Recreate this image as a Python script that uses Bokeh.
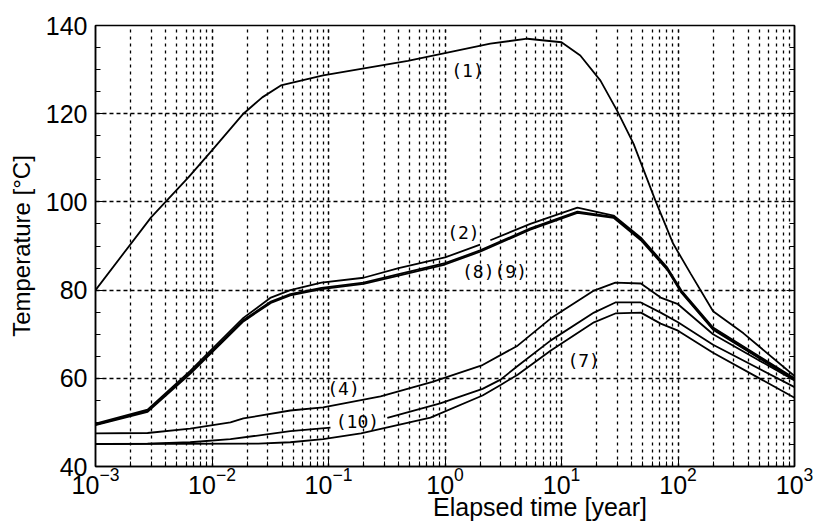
import math
from bokeh.plotting import figure
from bokeh.layouts import column
from bokeh.models import LinearAxis, LogTicker, SingleIntervalTicker, Range1d, Div
from bokeh.core.properties import value
from bokeh.embed import file_html
from bokeh.resources import INLINE

NaN = float("nan")

# Elapsed time [year] and temperature [°C] for each case
t1 = [0.001, 0.003, 0.0063, 0.01, 0.0186, 0.027, 0.039, 0.09, 0.48, 2.45, 5.1, 10, 14.5, 21.6, 30, 41.5, 64, 91, 128, 200, 365, 1000]
T1 = [80.0, 96.5, 105.6, 111.7, 120.0, 123.7, 126.4, 128.7, 132.0, 135.9, 137.0, 136.2, 133.2, 127.5, 120.7, 113.2, 100.3, 90.5, 83.8, 75.2, 70.2, 60.5]

t2 = [0.001, 0.0028, 0.0065, 0.0186, 0.032, 0.047, 0.087, 0.2, 0.4, 1.0, 2.0, 2.2, 2.45, 5.4, 13.7, 28, 48, 81, 107, 200, 1000]
T2 = [49.7, 52.9, 61.7, 73.7, 78.3, 80.0, 81.7, 82.8, 85.0, 87.4, 90.3, NaN, 91.3, 95.0, 98.7, 96.9, 91.9, 85.1, 79.9, 71.5, 60.0]

t8 = [0.001, 0.0028, 0.0065, 0.0186, 0.032, 0.047, 0.087, 0.2, 0.4, 1.0, 2.0, 5.4, 13.7, 28, 48, 81, 107, 200, 1000]
T8 = [49.5, 52.6, 61.3, 73.2, 77.4, 79.1, 80.5, 81.7, 83.6, 86.1, 89.0, 94.0, 97.8, 96.6, 91.6, 84.8, 79.6, 71.2, 59.8]
T9 = [49.4, 52.4, 61.0, 72.9, 77.1, 78.8, 80.2, 81.4, 83.3, 85.8, 88.7, 93.7, 97.5, 96.4, 91.3, 84.6, 79.4, 71.0, 59.6]

t4 = [0.001, 0.0028, 0.0065, 0.0144, 0.0186, 0.047, 0.09, 0.28, 0.78, 2.1, 4.2, 8.1, 19, 29, 48, 71, 100, 200, 1000]
T4 = [47.5, 47.6, 48.6, 50.0, 50.9, 52.7, 53.4, 55.9, 59.2, 63.0, 67.4, 73.6, 79.9, 81.7, 81.5, 78.3, 76.8, 70.0, 59.5]

t10 = [0.001, 0.0028, 0.0065, 0.0144, 0.047, 0.104, 0.18, 0.32, 0.91, 2.1, 3.0, 4.2, 8.1, 19, 29, 48, 71, 100, 200, 1000]
T10 = [45.1, 45.2, 45.5, 46.2, 48.0, 48.8, NaN, 51.0, 54.3, 57.6, 59.7, 62.8, 68.6, 74.9, 77.2, 77.2, 74.9, 72.7, 67.6, 58.0]

t7 = [0.001, 0.025, 0.047, 0.09, 0.19, 0.75, 2.1, 3.0, 4.2, 8.1, 19, 29, 48, 71, 100, 200, 1000]
T7 = [45.1, 45.2, 45.5, 46.2, 47.5, 51.1, 56.1, 58.5, 60.8, 66.3, 72.7, 74.7, 74.9, 72.4, 70.8, 65.8, 55.6]

series = [(t1, T1), (t2, T2), (t8, T8), (t8, T9), (t4, T4), (t10, T10), (t7, T7)]

# Curve tags and where they sit
tags = ["(1)", "(2)", "(8)(9)", "(4)", "(10)", "(7)"]
tag_x = [1.56, 1.44, 2.66, 0.1345, 0.177, 15.5]
tag_y = [129.8, 93.0, 84.2, 57.6, 50.1, 64.0]

y_ticks_step = 20

FONT = "Liberation Sans"

p = figure(width=813, height=503, x_axis_type="log",
           x_range=Range1d(1e-3, 1e3), y_range=Range1d(40, 140),
           output_backend="svg", toolbar_location=None,
           min_border_left=95, min_border_right=19, min_border_top=25, min_border_bottom=37)
p.outline_line_color = "black"
p.outline_line_width = 1.5

# grids: dotted on every log sub-decade and on each major temperature
p.xaxis.ticker = LogTicker(num_minor_ticks=10)
p.yaxis.ticker = SingleIntervalTicker(interval=y_ticks_step, num_minor_ticks=4)
p.xgrid.grid_line_color = "black"
p.xgrid.grid_line_dash = "3 4"
p.xgrid.grid_line_width = 1.3
p.xgrid.minor_grid_line_color = "black"
p.xgrid.minor_grid_line_dash = "3 4"
p.xgrid.minor_grid_line_width = 1.3
p.ygrid.grid_line_color = "black"
p.ygrid.grid_line_dash = "4 3"
p.ygrid.grid_line_width = 1.3

for ax in (p.xaxis[0], p.yaxis[0]):
    ax.major_tick_in = 8
    ax.major_tick_out = 0
    ax.minor_tick_in = 5
    ax.minor_tick_out = 0
    ax.axis_line_width = 1.5
    ax.major_label_text_font = FONT
    ax.major_label_text_font_size = "25px"
    ax.major_label_text_color = "black"
    ax.axis_label_text_font = FONT
    ax.axis_label_text_font_size = "24px"
    ax.axis_label_text_font_style = "normal"
    ax.axis_label_text_color = "black"

p.yaxis.axis_label = "Temperature [°C]"
p.yaxis.axis_label_standoff = 8
p.yaxis.major_label_standoff = 8
p.xaxis.major_label_standoff = 0

right = LinearAxis(ticker=SingleIntervalTicker(interval=y_ticks_step, num_minor_ticks=4),
                   major_label_text_font_size="1px", major_label_text_color=None,
                   major_tick_in=8, major_tick_out=0,
                   minor_tick_in=5, minor_tick_out=0, axis_line_width=1.5)
p.add_layout(right, "right")

for tx, ty in series:
    p.line(tx, ty, line_color="black", line_width=1.8)

p.text(x=tag_x, y=tag_y, text=tags, text_font=value("DejaVu Sans Mono"),
       text_font_size="18px", text_align="center", text_baseline="middle", text_color="black")

# x-axis title sits under the tick labels, a little right of centre
xlabel = Div(text="Elapsed time [year]", width=813, height=18, margin=(0, 0, 0, 0),
             styles={"font-family": FONT, "font-size": "25px", "color": "black",
                     "line-height": "8px", "padding-left": "433px", "white-space": "nowrap"})

layout = column(p, xlabel, spacing=0)
open("out.html", "w").write(file_html(layout, INLINE))
